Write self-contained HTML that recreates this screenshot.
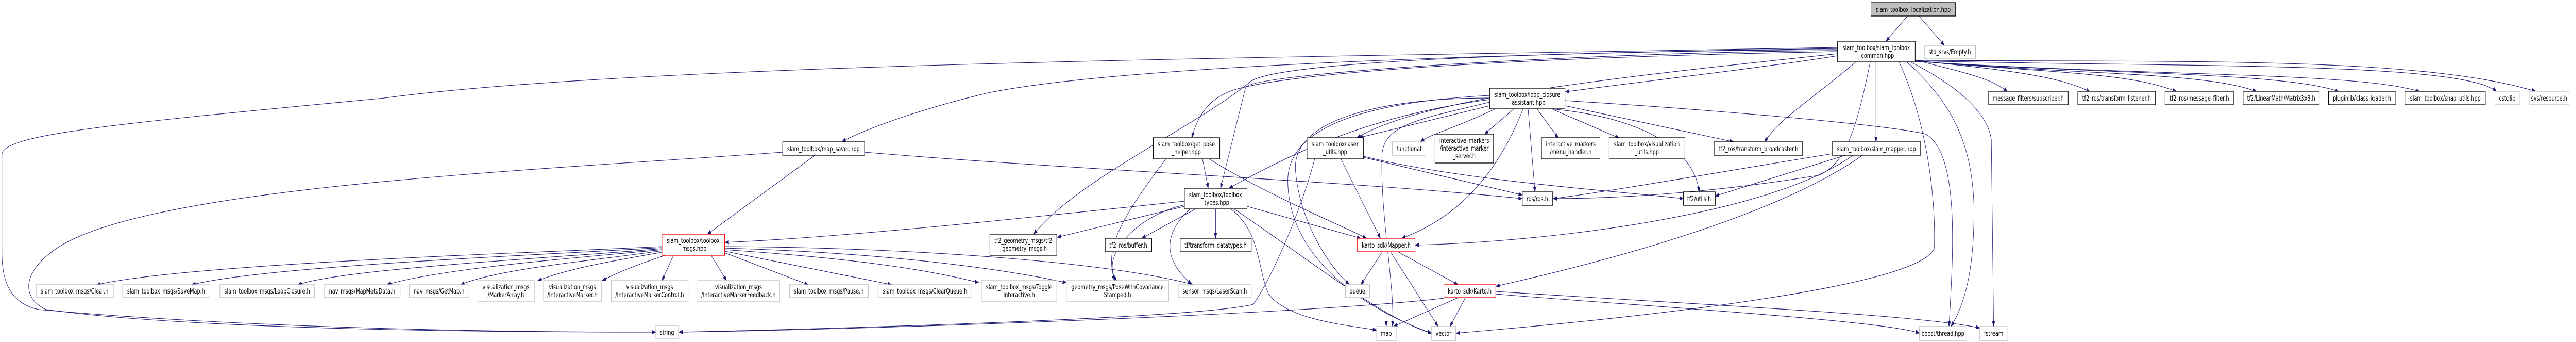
<!DOCTYPE html>
<html><head><meta charset="utf-8"><style>
html,body{margin:0;padding:0;background:#fff;overflow:hidden;width:100%;height:100%;}
svg{display:block;width:100vw;height:100vh;}
text{font-family:"DejaVu Sans","Liberation Sans",sans-serif;font-size:13px;fill:#000;text-anchor:middle;}
.e{fill:none;stroke:#191970;stroke-width:1.1;marker-end:url(#a);}
.b{fill:#fff;stroke:#000;stroke-width:1.3;}
.g{fill:#fff;stroke:#bfbfbf;stroke-width:1.3;}
.r{fill:#fff;stroke:#ff0000;stroke-width:1.3;}
.f{fill:#bfbfbf;stroke:#000;stroke-width:1.3;}
</style></head><body>
<svg viewBox="0 0 6701 663" preserveAspectRatio="none" xmlns="http://www.w3.org/2000/svg">
<defs><marker id="a" markerUnits="userSpaceOnUse" markerWidth="11" markerHeight="8" refX="10" refY="4" orient="auto"><path d="M0,0 L11,4 L0,8 z" fill="#191970"/></marker></defs>
<g>
<path class="e" d="M4962,31 L4906,80"/>
<path class="e" d="M4992,31 L5058,88"/>
<path class="e" d="M4780,108 C4600,130 4250,160 4072,178"/>
<path class="e" d="M4828,120 C4700,200 4630,230 4590,275"/>
<path class="e" d="M4865,120 C4830,250 4800,320 4730,340 C4400,380 4150,385 4040,385"/>
<path class="e" d="M4880,120 L4880,275"/>
<path class="e" d="M4940,120 C5020,250 5035,400 5032,480 C5000,560 4200,620 3788,646"/>
<path class="e" d="M4960,120 C5080,200 5130,280 5135,400 C5136,500 5120,580 5075,633"/>
<path class="e" d="M4970,120 C5100,170 5170,220 5180,270 L5186,633"/>
<path class="e" d="M4982,116 C5100,140 5180,150 5222,178"/>
<path class="e" d="M4982,117 C5200,135 5350,145 5437,178"/>
<path class="e" d="M4982,118 C5300,140 5550,140 5662,178"/>
<path class="e" d="M4982,118 C5400,145 5750,140 5871,178"/>
<path class="e" d="M4982,119 C5500,145 5950,140 6085,178"/>
<path class="e" d="M4982,119 C5600,148 6150,140 6295,178"/>
<path class="e" d="M4982,118 C5700,130 6400,120 6494,177"/>
<path class="e" d="M4982,117 C5700,120 6300,110 6596,177"/>
<path class="e" d="M4780,104 C4200,150 3700,190 3530,267"/>
<path class="e" d="M4780,100 C4000,110 3300,140 3190,180 C3130,200 3110,240 3100,267"/>
<path class="e" d="M4780,98 C4200,100 3250,140 3240,170 L3175,365"/>
<path class="e" d="M4780,96 C4000,100 3300,120 3250,160 C3100,250 2800,350 2689,454"/>
<path class="e" d="M4780,94 C3800,105 2900,130 2570,180 C2400,210 2250,250 2190,275"/>
<path class="e" d="M4780,92 C3500,110 1700,120 1000,190 C300,240 5,260 5,300 L5,490 C5,560 40,590 100,600 C700,640 1400,644 1706,644"/>
<path class="e" d="M2249,295 C2800,330 3500,350 3960,385"/>
<path class="e" d="M2120,301 L1840,454"/>
<path class="e" d="M2036,295 C1400,330 400,360 150,480 C50,530 60,580 120,600 C500,640 1300,644 1706,644"/>
<path class="e" d="M3128,308 L3143,365"/>
<path class="e" d="M3033,308 C2920,420 2870,480 2900,544"/>
<path class="e" d="M3145,308 C3300,380 3500,440 3555,462"/>
<path class="e" d="M3081,390 C2700,420 2200,460 1886,470"/>
<path class="e" d="M3081,400 L2750,460"/>
<path class="e" d="M3110,405 L2970,462"/>
<path class="e" d="M3162,405 L3162,462"/>
<path class="e" d="M3096,405 C3030,450 3020,500 3100,551"/>
<path class="e" d="M3081,397 C2950,420 2860,500 2905,544"/>
<path class="e" d="M3244,400 L3540,462"/>
<path class="e" d="M3202,405 C3280,450 3270,520 3300,570 C3350,620 3500,630 3581,640"/>
<path class="e" d="M3210,405 C3400,500 3600,620 3724,646"/>
<path class="e" d="M3420,308 C3380,420 3300,550 3260,590 C3100,620 2000,640 1766,644"/>
<path class="e" d="M3756,578 C3400,610 2200,640 1766,644"/>
<path class="e" d="M3875,205 L3535,267"/>
<path class="e" d="M3875,193 C3600,220 3400,280 3197,365"/>
<path class="e" d="M3890,211 C3780,250 3720,260 3695,275"/>
<path class="e" d="M3938,211 L3862,260"/>
<path class="e" d="M3975,211 L3993,372"/>
<path class="e" d="M3998,211 L4054,268"/>
<path class="e" d="M4036,211 L4213,268"/>
<path class="e" d="M4071,205 L4510,275"/>
<path class="e" d="M4035,211 C4300,230 4410,300 4420,372"/>
<path class="e" d="M4071,195 C4400,210 4900,240 5010,260 C5100,300 5080,500 5070,633"/>
<path class="e" d="M3962,211 C3900,330 3800,420 3646,462"/>
<path class="e" d="M3875,198 C3700,230 3600,240 3595,300 C3590,420 3630,560 3622,633"/>
<path class="e" d="M3875,190 C3600,190 3360,230 3370,330 C3380,430 3460,520 3510,551"/>
<path class="e" d="M3875,185 C3500,200 3350,260 3350,350 C3350,500 3550,600 3724,646"/>
<path class="e" d="M3547,305 L3960,378"/>
<path class="e" d="M3547,303 C3800,350 4200,370 4379,385"/>
<path class="e" d="M3488,308 L3591,462"/>
<path class="e" d="M4766,298 C4500,330 4200,370 4040,385"/>
<path class="e" d="M4800,301 L4462,380"/>
<path class="e" d="M4820,301 C4600,420 4000,470 3681,475"/>
<path class="e" d="M4845,301 C4600,430 4100,520 3891,555"/>
<path class="e" d="M3596,488 L3540,552"/>
<path class="e" d="M3606,488 L3606,633"/>
<path class="e" d="M3617,488 L3741,633"/>
<path class="e" d="M3636,488 L3793,552"/>
<path class="e" d="M3793,577 L3625,633"/>
<path class="e" d="M3812,577 L3772,633"/>
<path class="e" d="M3891,570 C4200,590 4900,620 4993,646"/>
<path class="e" d="M3891,565 C4400,590 5000,610 5150,636"/>
<path class="e" d="M1722,478 C1400,490 500,510 252,552"/>
<path class="e" d="M1722,480 C1400,495 700,515 499,552"/>
<path class="e" d="M1722,482 C1450,500 900,520 775,552"/>
<path class="e" d="M1722,484 C1500,500 1150,520 1006,552"/>
<path class="e" d="M1722,486 C1550,505 1300,520 1198,552"/>
<path class="e" d="M1722,489 C1600,505 1480,520 1399,544"/>
<path class="e" d="M1730,495 C1650,515 1600,530 1567,544"/>
<path class="e" d="M1752,495 L1722,544"/>
<path class="e" d="M1850,495 L1890,544"/>
<path class="e" d="M1885,490 L2103,552"/>
<path class="e" d="M1885,487 L2320,552"/>
<path class="e" d="M1885,484 C2200,500 2400,520 2546,548"/>
<path class="e" d="M1885,481 C2300,490 2600,520 2774,548"/>
<path class="e" d="M1885,478 C2400,480 2900,510 3104,552"/>
</g>
<g>
<rect class="f" x="4867" y="5" width="220" height="26"/><text x="4977" y="23">slam_toolbox_localization.hpp</text>
<rect class="b" x="4780" y="80" width="202" height="40"/><text x="4881" y="97">slam_toolbox/slam_toolbox</text><text x="4881" y="112">_common.hpp</text>
<rect class="g" x="5006" y="88" width="133" height="25"/><text x="5072" y="105">std_srvs/Empty.h</text>
<rect class="b" x="3875" y="171" width="196" height="40"/><text x="3973" y="188">slam_toolbox/loop_closure</text><text x="3973" y="203">_assistant.hpp</text>
<rect class="b" x="2036" y="275" width="213" height="26"/><text x="2142" y="293">slam_toolbox/map_saver.hpp</text>
<rect class="b" x="3000" y="267" width="173" height="41"/><text x="3086" y="284">slam_toolbox/get_pose</text><text x="3086" y="299">_helper.hpp</text>
<rect class="b" x="3400" y="267" width="147" height="41"/><text x="3473" y="284">slam_toolbox/laser</text><text x="3473" y="299">_utils.hpp</text>
<rect class="g" x="3622" y="275" width="87" height="26"/><text x="3665" y="293">functional</text>
<rect class="b" x="3733" y="260" width="152" height="56"/><text x="3809" y="277">interactive_markers</text><text x="3809" y="292">/interactive_marker</text><text x="3809" y="307">_server.h</text>
<rect class="b" x="4010" y="267" width="152" height="41"/><text x="4086" y="284">interactive_markers</text><text x="4086" y="299">/menu_handler.h</text>
<rect class="b" x="4186" y="267" width="197" height="41"/><text x="4284" y="284">slam_toolbox/visualization</text><text x="4284" y="299">_utils.hpp</text>
<rect class="b" x="4459" y="275" width="230" height="26"/><text x="4574" y="293">tf2_ros/transform_broadcaster.h</text>
<rect class="b" x="4766" y="275" width="230" height="26"/><text x="4881" y="293">slam_toolbox/slam_mapper.hpp</text>
<rect class="b" x="5173" y="177" width="207" height="26"/><text x="5276" y="195">message_filters/subscriber.h</text>
<rect class="b" x="5405" y="177" width="202" height="26"/><text x="5506" y="195">tf2_ros/transform_listener.h</text>
<rect class="b" x="5632" y="177" width="178" height="26"/><text x="5721" y="195">tf2_ros/message_filter.h</text>
<rect class="b" x="5835" y="177" width="198" height="26"/><text x="5934" y="195">tf2/LinearMath/Matrix3x3.h</text>
<rect class="b" x="6057" y="177" width="175" height="26"/><text x="6144" y="195">pluginlib/class_loader.h</text>
<rect class="b" x="6257" y="177" width="208" height="26"/><text x="6361" y="195">slam_toolbox/snap_utils.hpp</text>
<rect class="g" x="6490" y="177" width="65" height="25"/><text x="6522" y="195">cstdlib</text>
<rect class="g" x="6579" y="177" width="104" height="25"/><text x="6631" y="195">sys/resource.h</text>
<rect class="b" x="3081" y="365" width="163" height="40"/><text x="3162" y="382">slam_toolbox/toolbox</text><text x="3162" y="397">_types.hpp</text>
<rect class="b" x="3960" y="372" width="79" height="26"/><text x="3999" y="390">ros/ros.h</text>
<rect class="b" x="4379" y="372" width="83" height="26"/><text x="4420" y="390">tf2/utils.h</text>
<rect class="r" x="1722" y="454" width="163" height="41"/><text x="1803" y="471">slam_toolbox/toolbox</text><text x="1803" y="486">_msgs.hpp</text>
<rect class="b" x="2575" y="454" width="174" height="41"/><text x="2662" y="471">tf2_geometry_msgs/tf2</text><text x="2662" y="486">_geometry_msgs.h</text>
<rect class="b" x="2875" y="462" width="121" height="26"/><text x="2935" y="480">tf2_ros/buffer.h</text>
<rect class="b" x="3070" y="462" width="185" height="26"/><text x="3162" y="480">tf/transform_datatypes.h</text>
<rect class="r" x="3531" y="462" width="150" height="26"/><text x="3606" y="480">karto_sdk/Mapper.h</text>
<rect class="g" x="3500" y="552" width="63" height="25"/><text x="3531" y="569">queue</text>
<rect class="r" x="3756" y="552" width="135" height="25"/><text x="3823" y="569">karto_sdk/Karto.h</text>
<rect class="g" x="94" y="552" width="201" height="25"/><text x="194" y="569">slam_toolbox_msgs/Clear.h</text>
<rect class="g" x="319" y="552" width="227" height="25"/><text x="432" y="569">slam_toolbox_msgs/SaveMap.h</text>
<rect class="g" x="572" y="552" width="246" height="25"/><text x="695" y="569">slam_toolbox_msgs/LoopClosure.h</text>
<rect class="g" x="843" y="552" width="198" height="25"/><text x="942" y="569">nav_msgs/MapMetaData.h</text>
<rect class="g" x="1065" y="552" width="155" height="25"/><text x="1142" y="569">nav_msgs/GetMap.h</text>
<rect class="g" x="1243" y="544" width="147" height="41"/><text x="1316" y="561">visualization_msgs</text><text x="1316" y="576">/MarkerArray.h</text>
<rect class="g" x="1414" y="544" width="151" height="41"/><text x="1489" y="561">visualization_msgs</text><text x="1489" y="576">/InteractiveMarker.h</text>
<rect class="g" x="1590" y="544" width="200" height="41"/><text x="1690" y="561">visualization_msgs</text><text x="1690" y="576">/InteractiveMarkerControl.h</text>
<rect class="g" x="1815" y="544" width="213" height="41"/><text x="1921" y="561">visualization_msgs</text><text x="1921" y="576">/InteractiveMarkerFeedback.h</text>
<rect class="g" x="2054" y="552" width="205" height="25"/><text x="2156" y="569">slam_toolbox_msgs/Pause.h</text>
<rect class="g" x="2284" y="552" width="244" height="25"/><text x="2406" y="569">slam_toolbox_msgs/ClearQueue.h</text>
<rect class="g" x="2553" y="544" width="196" height="41"/><text x="2651" y="561">slam_toolbox_msgs/Toggle</text><text x="2651" y="576">Interactive.h</text>
<rect class="g" x="2774" y="544" width="266" height="41"/><text x="2907" y="561">geometry_msgs/PoseWithCovariance</text><text x="2907" y="576">Stamped.h</text>
<rect class="g" x="3065" y="552" width="190" height="25"/><text x="3160" y="569">sensor_msgs/LaserScan.h</text>
<rect class="g" x="1706" y="631" width="59" height="26"/><text x="1735" y="649">string</text>
<rect class="g" x="3581" y="633" width="51" height="27"/><text x="3606" y="651">map</text>
<rect class="g" x="3724" y="633" width="63" height="27"/><text x="3755" y="651">vector</text>
<rect class="g" x="4993" y="633" width="123" height="27"/><text x="5054" y="651">boost/thread.hpp</text>
<rect class="g" x="5150" y="633" width="73" height="27"/><text x="5186" y="651">fstream</text>
</g>
</svg>
</body></html>
